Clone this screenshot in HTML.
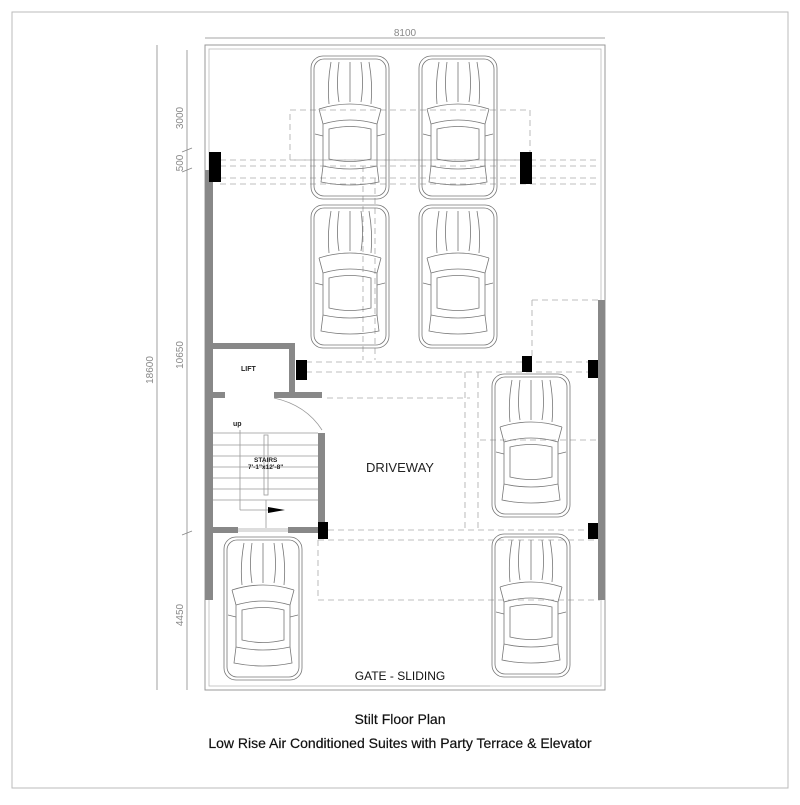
<!DOCTYPE html>
<html><head><meta charset="utf-8"><style>
body{margin:0;background:#fff;width:800px;height:800px;overflow:hidden;font-family:"Liberation Sans",sans-serif}
</style></head><body>
<svg width="800" height="800" viewBox="0 0 800 800" xmlns="http://www.w3.org/2000/svg">
<defs>
<g id="car" fill="none" stroke="#777" stroke-width="0.8">
<rect x="2" y="2" width="78" height="143" rx="12"/>
<rect x="5" y="5" width="72" height="137" rx="10"/>
<path d="M10 55 Q41 45 72 55"/>
<path d="M14 70 Q41 62 68 70 L68 112 Q41 118 14 112 Z"/>
<path d="M20 75 Q41 70 62 75 L62 105 Q41 110 20 105 Z"/>
<path d="M10 55 L14 70 M72 55 L68 70"/>
<path d="M14 112 L12 128 Q41 134 70 128 L68 112"/>
<path d="M22 8 Q18 30 20 50 M60 8 Q64 30 62 50 M41 8 L41 48 M30 8 Q27 30 30 48 M52 8 Q55 30 52 48"/>
<path d="M6 80 L14 82 M76 80 L68 82"/>
</g>
</defs>
<rect x="12" y="12" width="776" height="776" fill="none" stroke="#bbb" stroke-width="1"/>
<rect x="205" y="45" width="400" height="645" fill="none" stroke="#999" stroke-width="1"/>
<rect x="209" y="49" width="392" height="637" fill="none" stroke="#bbb" stroke-width="0.8"/>
<g stroke="#888" stroke-width="0.8" fill="none">
<line x1="205" y1="38" x2="605" y2="38"/>
<line x1="157" y1="45" x2="157" y2="690"/>
<line x1="187" y1="50" x2="187" y2="690"/>
<line x1="182" y1="152" x2="192" y2="148"/><line x1="182" y1="172" x2="192" y2="168"/>
<line x1="182" y1="535" x2="192" y2="531"/>
</g>
<g fill="#888" font-size="10" text-anchor="middle">
<text x="405" y="36">8100</text>
<text transform="translate(183,118) rotate(-90)">3000</text>
<text transform="translate(183,163) rotate(-90)">500</text>
<text transform="translate(183,355) rotate(-90)">10650</text>
<text transform="translate(183,615) rotate(-90)">4450</text>
<text transform="translate(153,370) rotate(-90)">18600</text>
</g>
<g stroke="#aaa" stroke-width="0.8" fill="none" stroke-dasharray="6,4">
<line x1="220" y1="160" x2="600" y2="160"/><line x1="220" y1="166" x2="600" y2="166"/>
<line x1="220" y1="178" x2="600" y2="178"/><line x1="220" y1="184" x2="600" y2="184"/>
<rect x="290" y="110" width="240" height="50"/>
<line x1="363" y1="166" x2="363" y2="360"/><line x1="375" y1="178" x2="375" y2="360"/>
<line x1="306" y1="362" x2="600" y2="362"/><line x1="306" y1="372" x2="600" y2="372"/>
<line x1="532" y1="300" x2="600" y2="300"/><line x1="532" y1="300" x2="532" y2="360"/>
<line x1="465" y1="372" x2="465" y2="530"/><line x1="478" y1="372" x2="478" y2="530"/>
<line x1="480" y1="440" x2="600" y2="440"/>
<line x1="318" y1="530" x2="600" y2="530"/><line x1="318" y1="540" x2="600" y2="540"/>
<line x1="318" y1="600" x2="600" y2="600"/><line x1="318" y1="540" x2="318" y2="600"/>
<line x1="327" y1="398" x2="470" y2="398"/>
</g>
<g fill="#888">
<rect x="205" y="170" width="8" height="430"/>
<rect x="598" y="300" width="7" height="300"/>
<rect x="213" y="343" width="82" height="6"/>
<rect x="289" y="343" width="6" height="50"/>
<rect x="213" y="392" width="12" height="6"/>
<rect x="274" y="392" width="48" height="6"/>
<rect x="318" y="433" width="7" height="97"/>
<rect x="213" y="527" width="25" height="6"/>
<rect x="288" y="527" width="32" height="6"/>
</g>
<g fill="#000">
<rect x="209" y="152" width="12" height="30"/>
<rect x="520" y="152" width="12" height="32"/>
<rect x="296" y="360" width="11" height="20"/>
<rect x="522" y="356" width="10" height="16"/>
<rect x="588" y="360" width="10" height="18"/>
<rect x="588" y="523" width="10" height="16"/>
<rect x="318" y="522" width="10" height="17"/>
</g>
<g stroke="#999" stroke-width="0.8" fill="none">
<line x1="213" y1="433" x2="318" y2="433"/>
<line x1="213" y1="445" x2="318" y2="445"/>
<line x1="213" y1="456" x2="318" y2="456"/>
<line x1="213" y1="467" x2="318" y2="467"/>
<line x1="213" y1="478" x2="318" y2="478"/>
<line x1="213" y1="489" x2="318" y2="489"/>
<line x1="213" y1="500" x2="318" y2="500"/>
<rect x="264" y="435" width="4" height="60"/>
<line x1="240" y1="430" x2="240" y2="510"/><line x1="240" y1="510" x2="280" y2="510"/>
<line x1="266" y1="500" x2="266" y2="530"/>
<path d="M274 398 Q306 405 322 430"/>
</g>
<polygon points="268,507 285,510 268,513" fill="#000"/>
<rect x="238" y="528" width="50" height="4" fill="#ddd"/>
<g font-weight="bold" fill="#222">
<text x="241" y="371" font-size="7">LIFT</text>
<text x="233" y="426" font-size="7">up</text>
<text x="254" y="462" font-size="6.5">STAIRS</text>
<text x="248" y="469" font-size="6.5">7'-1"x12'-8"</text>
</g>
<text x="400" y="472" font-size="13" fill="#222" text-anchor="middle">DRIVEWAY</text>
<use href="#car" x="309" y="54"/>
<use href="#car" x="417" y="54"/>
<use href="#car" x="309" y="203"/>
<use href="#car" x="417" y="203"/>
<use href="#car" x="490" y="372"/>
<use href="#car" x="490" y="532"/>
<use href="#car" x="222" y="535"/>
<rect x="280" y="684" width="210" height="4" fill="#fff"/>
<line x1="280" y1="686" x2="490" y2="686" stroke="#bbb" stroke-width="1"/>
<text x="400" y="680" font-size="12" fill="#111" text-anchor="middle">GATE - SLIDING</text>
<text x="400" y="724" font-size="14" fill="#111" text-anchor="middle" stroke="#111" stroke-width="0.2">Stilt Floor Plan</text>
<text x="400" y="748" font-size="14" fill="#111" text-anchor="middle" stroke="#111" stroke-width="0.2">Low Rise Air Conditioned Suites with Party Terrace &amp; Elevator</text>
</svg>
</body></html>
